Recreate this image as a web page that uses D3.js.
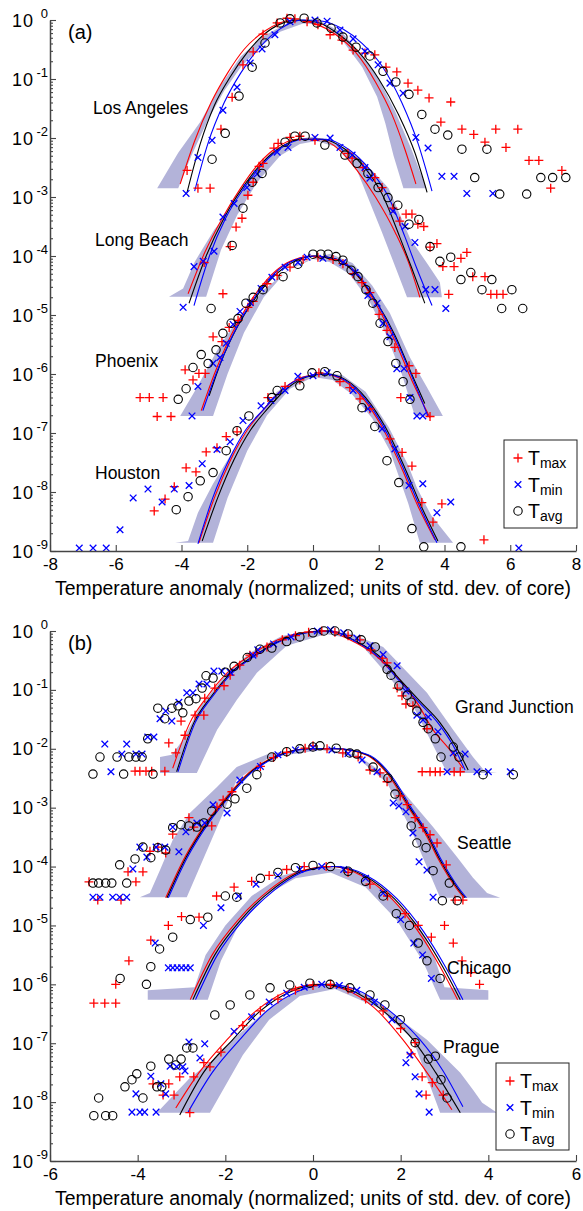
<!DOCTYPE html>
<html>
<head>
<meta charset="utf-8">
<script src="https://cdn.jsdelivr.net/npm/d3@7"></script>
<style>
  body { margin: 0; background: #fff; }
  text { font-family: "Liberation Sans", Arial, sans-serif; fill: #000; }
</style>
</head>
<body>
<div id="chart"></div>
<script>
// every point is [temperature anomaly, log10 of normalized frequency]

// ---- panel (a) ----
const laTmax = [[-0.79,0.03],[-0.55,0.02],[-1.09,-0.05],[-1.52,-0.24],[-1.82,-0.54],[-2.13,-0.76],[-2.46,-1.31],[-2.80,-1.85],[-3.83,-2.55],[-3.50,-2.85],[-3.13,-2.85],
  [-0.18,-0.03],[0.15,-0.08],[0.52,-0.25],[0.88,-0.34],[1.22,-0.51],[1.58,-0.56],[1.88,-0.59],[2.22,-0.80],[2.55,-0.88],[2.89,-1.07],[3.19,-1.19],[3.53,-1.32],[4.19,-1.39],
  [3.89,-1.73],[4.53,-1.85],[4.89,-1.94],[5.56,-1.85],[6.23,-1.85],[5.23,-2.07],[5.87,-2.16],[6.57,-2.38],[6.87,-2.38],[7.57,-2.55],[7.23,-2.85]];
const laTmin = [[-0.70,-0.03],[-1.16,-0.25],[-1.55,-0.49],[-1.91,-0.73],[-2.31,-1.14],[-2.74,-1.53],[-3.07,-2.04],[-3.50,-2.33],[-3.86,-2.94],
  [0.06,0],[0.43,-0.02],[0.82,-0.17],[1.22,-0.32],[1.58,-0.53],[1.98,-0.76],[2.34,-1.07],[2.74,-1.24],[3.13,-1.99],[3.50,-2.17],[3.92,-2.65],[4.29,-2.65],[4.68,-2.94],[5.47,-2.94]];
const laTavg = [[-1.0,-0.05],[-0.70,0.02],[-0.27,0.03],[0.12,-0.05],[0.55,-0.14],[0.91,-0.29],[1.31,-0.46],[1.73,-0.61],[2.13,-0.87],[2.52,-1.05],[2.92,-1.26],[3.31,-1.60],
  [3.71,-1.85],[4.10,-1.95],[4.53,-2.19],[5.29,-2.19],[4.92,-2.67],[6.93,-2.67],[7.29,-2.67],[7.69,-2.67],[5.68,-2.95],[6.50,-2.95],
  [-1.46,-0.39],[-1.85,-0.80],[-2.25,-1.29],[-2.67,-1.92],[-3.07,-2.36]];
const laFitMax = [[-4.04,-2.78],[-3.6,-2.05],[-3.1,-1.4],[-2.6,-0.9],[-2.1,-0.5],[-1.5,-0.2],[-0.6,0],[0.1,-0.07],[0.7,-0.25],[1.3,-0.55],[1.9,-1.05],[2.4,-1.6],[2.8,-2.2],[3.13,-2.78]];
const laFitAvg = [[-3.83,-2.92],[-3.43,-2.1],[-3.0,-1.45],[-2.5,-0.95],[-2.0,-0.55],[-1.5,-0.25],[-1.0,-0.07],[-0.4,0],[0.2,-0.05],[0.8,-0.25],[1.4,-0.55],[2.0,-1.0],[2.6,-1.6],[3.1,-2.25],[3.47,-2.92]];
const laFitMin = [[-3.6,-2.9],[-3.2,-2.1],[-2.7,-1.4],[-2.2,-0.9],[-1.6,-0.45],[-1.0,-0.15],[-0.3,0],[0.3,-0.02],[0.9,-0.15],[1.5,-0.4],[2.1,-0.78],[2.7,-1.4],[3.2,-2.1],[3.62,-2.9]];
const laBand = [[-4.74,-2.85],[-4.1,-2.25],[-3.43,-1.73],[-2.8,-1.1],[-2.2,-0.62],[-1.5,-0.27],[-0.8,-0.06],[-0.3,0],[0.3,-0.04],[0.9,-0.22],[1.5,-0.6],[2.0,-1.0],[2.5,-1.55],[3.0,-2.2],[3.45,-2.85],
  [2.75,-2.85],[2.45,-2.3],[2.2,-1.75],[1.95,-1.3],[1.5,-0.8],[0.9,-0.35],[0.3,-0.08],[-0.3,-0.06],[-1.0,-0.2],[-1.6,-0.45],[-2.2,-0.8],[-2.7,-1.2],[-3.2,-1.7],[-3.7,-2.3],[-4.1,-2.85]];

const lbTmax = [[-0.70,-1.99],[-0.40,-1.97],[0.06,-2.04],[-1.06,-2.09],[-1.19,-2.17],[1.06,-2.26],[1.19,-2.34],[1.52,-2.50],[1.88,-2.67],[2.10,-2.84],[-1.52,-2.43],[-1.64,-2.48],
  [-1.98,-2.97],[-1.82,-2.75],[-2.16,-3.36],[-2.34,-3.51],[-2.52,-3.84],[-3.31,-4.11],[-2.74,-4.64],
  [2.43,-3.19],[2.64,-3.41],[2.83,-3.29],[3.01,-3.29],[3.19,-3.46],[3.37,-3.50],[3.56,-3.85],[3.77,-3.79],[3.95,-4.18],[4.29,-4.18],[4.50,-4.04],[4.68,-3.94],
  [4.86,-4.35],[5.23,-4.35],[5.41,-4.65],[5.59,-4.65],[5.78,-4.65],[4.13,-4.65]];
const lbTmin = [[1.73,-2.68],[2.43,-3.24],[2.80,-3.50],[3.10,-3.77],[3.43,-4.57],[3.71,-4.57],[4.04,-4.89],
  [-1.70,-2.61],[-2.01,-2.84],[-2.40,-3.11],[-2.74,-3.34],[-3.01,-3.92],[-3.34,-4.09],[-3.62,-4.18],[-3.95,-4.87],
  [-1.09,-2.24],[-0.76,-2.16],[0.06,-1.99],[0.52,-2.0],[0.82,-2.16],[1.19,-2.29],[1.58,-2.50]];
const lbTavg = [[-0.55,-1.97],[-0.24,-1.97],[-0.85,-2.07],[0.36,-2.12],[0.97,-2.29],[1.34,-2.43],[1.67,-2.60],[1.98,-2.84],[2.28,-3.01],[-1.55,-2.60],[-1.85,-2.75],
  [2.58,-3.14],[3.22,-3.38],[2.92,-3.46],[3.56,-3.84],[3.86,-4.09],[4.19,-4.02],[4.50,-4.40],[4.80,-4.28],[5.14,-4.57],[5.44,-4.40],[6.05,-4.57],[5.74,-4.89],[6.38,-4.89],
  [-2.13,-3.19],[-2.46,-3.82],[-3.10,-4.89]];
const lbFitMax = [[-3.80,-4.64],[-3.3,-3.95],[-2.75,-3.35],[-2.2,-2.85],[-1.82,-2.55],[-1.2,-2.2],[-0.5,-2.02],[0.2,-2.02],[0.8,-2.2],[1.34,-2.55],[1.9,-3.0],[2.5,-3.6],[2.9,-4.1],[3.25,-4.7]];
const lbFitAvg = [[-3.77,-4.80],[-3.25,-4.0],[-2.7,-3.35],[-2.15,-2.85],[-1.75,-2.55],[-1.1,-2.2],[-0.4,-2.02],[0.3,-2.02],[1.0,-2.2],[1.64,-2.55],[2.1,-2.95],[2.64,-3.68],[3.0,-4.2],[3.40,-4.80]];
const lbFitMin = [[-3.62,-4.84],[-3.15,-4.0],[-2.65,-3.35],[-2.1,-2.85],[-1.70,-2.55],[-1.05,-2.2],[-0.3,-2.02],[0.4,-2.02],[1.1,-2.2],[1.75,-2.55],[2.25,-2.95],[2.8,-3.68],[3.15,-4.2],[3.62,-4.84]];
const lbBand = [[-4.38,-4.69],[-3.95,-4.55],[-3.6,-4.1],[-3.0,-3.55],[-2.5,-3.2],[-1.9,-2.65],[-1.3,-2.25],[-0.6,-2.03],[0,-1.98],[0.6,-2.05],[1.2,-2.25],[1.8,-2.55],[2.3,-2.85],[2.95,-3.7],[3.5,-4.15],[3.86,-4.45],[3.92,-4.70],
  [2.86,-4.70],[2.1,-3.6],[1.34,-2.55],[0.7,-2.15],[0.1,-2.05],[-0.4,-2.1],[-1.0,-2.3],[-1.7,-2.75],[-2.3,-3.3],[-2.8,-3.9],[-3.25,-4.69]];

const phxTmax = [[-5.26,-6.40],[-4.98,-6.40],[-4.56,-6.40],[-4.74,-6.72],[-4.32,-6.72],[-3.89,-5.93],[-3.65,-6.10],[-3.47,-5.99],[-3.28,-5.99],[-3.04,-5.37],[-2.77,-5.45],
  [-2.55,-5.21],[-2.28,-5.09],[-1.98,-4.87],[-1.82,-4.77],[-1.40,-4.47],[-1.09,-4.33],[-0.70,-4.19],[-0.30,-4.06],[0.15,-4.02],[0.61,-4.06],[0.91,-4.13],[1.22,-4.30],
  [1.49,-4.45],[1.73,-4.62],[2.01,-4.99],[2.25,-5.26],[2.49,-5.55],[2.92,-5.86],[3.13,-5.99],[2.67,-6.40],[3.56,-6.72]];
const phxTmin = [[-3.68,-6.71],[-3.50,-6.21],[-3.04,-5.82],[-2.83,-5.72],[-2.64,-5.48],[-2.43,-5.16],[-2.22,-4.94],[-1.91,-4.79],[-1.58,-4.55],[-1.25,-4.36],[-0.85,-4.19],
  [-0.46,-4.11],[-0.18,-4.02],[0.30,-4.04],[0.91,-4.11],[1.28,-4.28],[1.67,-4.67],[1.95,-4.80],[2.13,-5.14],[2.34,-5.37],[2.55,-5.91],[2.77,-5.91],[2.95,-6.40],[3.16,-6.71],[3.34,-6.71]];
const phxTavg = [[-4.10,-6.43],[-3.86,-6.25],[-3.65,-5.89],[-3.40,-5.67],[-3.19,-5.82],[-2.95,-5.59],[-2.74,-5.31],[-2.49,-5.14],[-2.28,-5.06],[-2.04,-4.80],[-1.82,-4.70],
  [-1.52,-4.57],[-0.91,-4.35],[-0.46,-4.14],[0,-3.97],[0.24,-3.97],[0.46,-3.97],[0.70,-4.01],[0.91,-4.07],[1.16,-4.24],[1.37,-4.35],[1.61,-4.57],[1.82,-4.80],[2.04,-5.14],
  [2.28,-5.45],[2.52,-5.82],[2.74,-6.13],[2.95,-6.43]];
const phxFitMax = [[-3.40,-6.62],[-3.0,-6.0],[-2.5,-5.35],[-2.0,-4.85],[-1.4,-4.4],[-0.8,-4.12],[0,-4.0],[0.7,-4.06],[1.3,-4.3],[1.9,-4.8],[2.5,-5.45],[3.0,-6.1],[3.56,-6.74]];
const phxFitAvg = [[-3.16,-6.37],[-2.8,-5.8],[-2.3,-5.2],[-1.8,-4.75],[-1.2,-4.35],[-0.6,-4.1],[0.1,-4.0],[0.7,-4.05],[1.3,-4.3],[1.9,-4.75],[2.5,-5.35],[3.0,-6.0],[3.40,-6.5]];
const phxFitMin = [[-3.35,-6.62],[-2.95,-6.0],[-2.45,-5.35],[-1.95,-4.85],[-1.35,-4.4],[-0.75,-4.12],[0.05,-4.0],[0.75,-4.06],[1.35,-4.3],[1.95,-4.8],[2.55,-5.45],[3.05,-6.1],[3.5,-6.72]];
const phxBand = [[-4.04,-6.71],[-3.53,-6.23],[-2.92,-5.6],[-2.31,-5.09],[-1.52,-4.58],[-0.49,-4.13],[0.52,-3.96],[1.2,-4.12],[1.8,-4.5],[2.34,-4.97],[2.95,-5.72],[3.47,-6.23],[3.95,-6.71],
  [3.10,-6.71],[2.7,-6.0],[2.2,-5.3],[1.7,-4.75],[1.1,-4.3],[0.5,-4.1],[0,-4.05],[-0.8,-4.25],[-1.5,-4.7],[-2.1,-5.3],[-2.6,-6.0],[-3.04,-6.71]];

const houTmax = [[-4.83,-8.32],[-4.50,-8.12],[-4.22,-7.91],[-3.86,-7.59],[-3.56,-7.66],[-3.25,-7.32],[-2.92,-7.25],[-2.64,-7.06],[-2.31,-6.98],[-1.37,-6.40],[-0.85,-6.21],[-0.40,-6.10],
  [0.18,-5.98],[0.82,-6.13],[1.12,-6.23],[1.43,-6.42],[1.73,-6.59],[2.34,-7.10],[2.71,-7.33],[3.01,-7.56],[3.31,-8.18],[3.65,-8.51],[3.92,-8.20],[5.20,-8.81]];
const houTmin = [[-7.11,-8.95],[-6.69,-8.95],[-6.29,-8.95],[-5.87,-8.64],[-5.47,-8.10],[-5.02,-7.95],[-4.59,-8.17],[-4.22,-7.95],[-3.77,-7.89],[-3.37,-7.52],[-2.92,-7.28],[-2.52,-7.15],
  [-2.13,-6.79],[-1.58,-6.54],[-1.28,-6.45],[-0.85,-6.28],[-0.46,-6.04],[0,-6.03],[0.43,-5.98],[1.22,-6.28],[1.67,-6.59],[2.10,-6.93],[2.49,-7.27],[2.92,-7.89],[3.34,-7.86],
  [3.77,-8.35],[4.19,-8.17],[6.26,-8.95]];
const houTavg = [[-4.16,-8.30],[-3.80,-8.08],[-3.43,-7.81],[-3.04,-7.67],[-2.64,-7.30],[-2.31,-6.96],[-1.95,-6.71],[-1.25,-6.40],[-1.09,-6.28],[-0.40,-6.20],[-0.03,-5.98],[0.36,-5.96],
  [0.73,-6.03],[1.49,-6.57],[1.88,-6.89],[2.25,-7.47],[2.61,-7.84],[3.01,-8.62],[3.37,-8.93],[4.50,-8.93]];
const houFitMax = [[-3.47,-8.86],[-3.0,-8.1],[-2.5,-7.45],[-2.0,-6.95],[-1.5,-6.6],[-0.9,-6.25],[-0.3,-6.05],[0.3,-6.0],[0.9,-6.1],[1.5,-6.4],[2.1,-6.9],[2.7,-7.6],[3.2,-8.25],[3.71,-8.81]];
const houFitAvg = [[-3.37,-8.83],[-2.9,-8.1],[-2.4,-7.45],[-1.9,-6.95],[-1.4,-6.6],[-0.8,-6.25],[-0.2,-6.05],[0.4,-6.0],[1.0,-6.1],[1.6,-6.4],[2.2,-6.9],[2.8,-7.6],[3.3,-8.25],[3.80,-8.83]];
const houFitMin = [[-3.5,-8.88],[-3.05,-8.1],[-2.55,-7.45],[-2.05,-6.95],[-1.5,-6.6],[-0.9,-6.25],[-0.25,-6.05],[0.35,-6.0],[0.95,-6.1],[1.55,-6.4],[2.15,-6.9],[2.75,-7.6],[3.25,-8.25],[3.77,-8.86]];
const houBand = [[-4.19,-8.86],[-3.8,-8.83],[-3.5,-8.35],[-3.04,-7.86],[-2.43,-7.3],[-1.8,-6.8],[-1.1,-6.3],[-0.4,-6.05],[0.3,-5.97],[0.9,-6.02],[1.6,-6.3],[2.3,-6.9],[2.9,-7.55],[3.16,-7.93],[3.6,-8.4],[4.26,-8.86],
  [3.25,-8.86],[2.9,-8.2],[2.34,-7.3],[1.8,-6.75],[1.2,-6.35],[0.6,-6.1],[0.0,-6.05],[-0.7,-6.25],[-1.4,-6.7],[-2.0,-7.3],[-2.6,-8.1],[-3.04,-8.86]];

// ---- panel (b) ----
const gjTmax = [[-4.06,-2.38],[-3.95,-2.38],[-3.81,-2.38],[-3.68,-2.38],[-3.38,-2.38],[-3.29,-1.90],[-3.13,-2.07],[-3.01,-1.53],[-2.92,-1.77],[-2.69,-1.43],[-2.49,-1.43],
  [-2.47,-1.14],[-2.24,-0.97],[-2.03,-0.93],[-1.89,-0.75],[-1.67,-0.58],[-1.44,-0.41],[-1.28,-0.37],[-1.05,-0.27],[-0.7,-0.15],[-0.4,-0.08],[-0.1,-0.02],[0.2,0.0],[0.5,-0.02],[0.8,-0.08],
  [1.07,-0.15],[1.32,-0.32],[1.58,-0.46],[1.69,-0.54],[1.92,-0.97],[2.03,-1.10],[2.12,-1.24],[2.28,-1.27],[2.60,-1.66],[2.49,-2.39],[2.67,-2.39],[2.79,-2.39],[2.90,-2.39],[3.22,-2.39],[3.36,-2.39]];
const gjTmin = [[-4.75,-1.92],[-4.61,-2.39],[-4.25,-1.92],[-4.36,-2.09],[-4.04,-2.09],[-3.90,-2.09],[-3.77,-1.80],[-3.63,-1.80],[-3.49,-1.49],[-3.36,-1.36],[-3.22,-1.53],[-3.06,-1.21],
  [-2.88,-1.05],[-2.74,-1.05],[-2.60,-0.90],[-2.42,-0.90],[-2.26,-0.68],[-2.08,-0.68],[-1.89,-0.70],[-1.37,-0.41],[-1.26,-0.32],[-0.9,-0.22],[-0.5,-0.1],[0.1,0],[0.4,0.02],[0.7,-0.03],
  [1.0,-0.12],[1.3,-0.25],[1.6,-0.4],[1.92,-0.59],[2.12,-1.02],[2.37,-1.43],[2.51,-1.51],[2.63,-1.46],[2.85,-1.71],[3.20,-2.07],[3.47,-2.09],[3.06,-2.39],[3.74,-2.39],[4.00,-2.39],[4.50,-2.39]];
const gjTavg = [[-5.02,-2.43],[-4.86,-2.14],[-4.47,-2.14],[-4.32,-2.43],[-4.20,-2.14],[-4.04,-2.14],[-3.90,-2.14],[-3.65,-2.43],[-3.77,-1.83],[-3.54,-1.31],[-3.38,-1.49],[-3.22,-1.31],
  [-2.97,-1.39],[-3.08,-1.27],[-2.83,-1.19],[-2.67,-1.15],[-2.53,-0.97],[-2.44,-0.76],[-2.28,-0.80],[-2.0,-0.7],[-1.8,-0.6],[-1.5,-0.45],[-1.21,-0.31],[-0.94,-0.29],[-0.6,-0.18],[-0.3,-0.1],
  [0.0,-0.03],[0.25,0.0],[0.5,0.0],[0.8,-0.05],[1.1,-0.15],[1.42,-0.27],[1.69,-0.65],[1.78,-0.75],[1.96,-0.93],[2.15,-1.09],[2.24,-1.21],[2.37,-1.36],[2.51,-1.55],[2.63,-1.66],
  [2.79,-1.83],[2.92,-2.14],[3.20,-1.97],[3.33,-2.14],[3.88,-2.44],[4.57,-2.44]];
const gjFitMax = [[-3.20,-2.33],[-2.81,-1.56],[-2.42,-1.12],[-1.96,-0.71],[-1.4,-0.4],[-0.8,-0.15],[-0.2,-0.02],[0.3,0],[0.84,-0.15],[1.4,-0.4],[2.0,-0.85],[2.4,-1.25],[2.74,-1.68],[3.1,-2.0],[3.42,-2.33]];
const gjFitAvg = [[-3.11,-2.39],[-2.72,-1.56],[-2.33,-1.12],[-1.87,-0.71],[-1.3,-0.4],[-0.7,-0.15],[-0.1,-0.02],[0.4,0],[0.92,-0.15],[1.5,-0.42],[1.99,-0.83],[2.45,-1.2],[2.90,-1.56],[3.25,-1.95],[3.54,-2.36]];
const gjFitMin = [[-3.08,-2.39],[-2.69,-1.56],[-2.3,-1.12],[-1.84,-0.71],[-1.27,-0.4],[-0.67,-0.15],[-0.07,-0.02],[0.42,0],[0.9,-0.15],[1.46,-0.42],[1.95,-0.83],[2.4,-1.2],[2.85,-1.56],[3.2,-1.95],[3.47,-2.36]];
const gjBand = [[-3.49,-2.41],[-3.49,-2.14],[-3.22,-2.1],[-2.97,-1.85],[-2.58,-1.29],[-1.96,-0.71],[-1.44,-0.37],[-0.7,-0.08],[0.2,0.02],[0.9,-0.05],[1.60,-0.27],[2.60,-1.05],[3.20,-1.68],
  [3.65,-2.14],[3.93,-2.39],[4.20,-2.41],[3.06,-2.41],[2.3,-1.3],[1.60,-0.66],[1.00,-0.15],[0.3,-0.05],[-0.6,-0.25],[-1.28,-0.71],[-1.74,-1.17],[-2.19,-1.68],[-2.65,-2.41]];

const seaTmax = [[-5.11,-4.26],[-4.91,-4.57],[-4.38,-4.57],[-4.22,-4.09],[-4.04,-4.26],[-3.88,-4.09],[-3.72,-3.74],[-3.54,-3.67],[-3.36,-3.77],[-3.20,-3.45],[-2.83,-3.17],[-2.72,-3.33],
  [-2.31,-3.31],[-2.19,-2.99],[-2.05,-2.87],[-1.85,-2.73],[-1.2,-2.3],[-0.9,-2.15],[-0.6,-2.06],[-0.18,-1.99],[0,-1.95],[0.32,-2.0],[0.68,-2.07],[1.03,-2.14],[1.30,-2.36],[1.53,-2.41],
  [1.69,-2.56],[1.99,-2.80],[2.15,-2.95],[2.33,-3.17],[2.51,-3.34],[2.67,-3.46],[2.83,-3.60],[3.04,-3.97],[3.24,-4.57],[3.42,-4.57]];
const seaTmin = [[-5.02,-4.52],[-4.86,-4.52],[-4.57,-4.52],[-4.41,-4.52],[-4.25,-4.52],[-4.11,-4.04],[-3.95,-3.67],[-3.79,-3.84],[-3.58,-3.67],[-3.38,-3.67],[-3.06,-3.75],[-3.20,-3.33],
  [-2.90,-3.41],[-2.65,-3.26],[-2.47,-3.26],[-2.28,-2.95],[-1.96,-3.09],[-1.67,-2.53],[-1.2,-2.3],[-0.8,-2.1],[-0.4,-2.02],[0.0,-1.98],[0.43,-2.02],[0.8,-2.08],[1.12,-2.19],[1.46,-2.39],
  [1.83,-2.92],[1.96,-2.97],[2.12,-3.07],[2.28,-3.43],[2.42,-3.92],[2.60,-4.06],[2.74,-4.52]];
const seaTavg = [[-5.02,-4.28],[-4.89,-4.28],[-4.73,-4.28],[-4.59,-4.28],[-4.25,-4.28],[-4.41,-3.97],[-4.06,-3.87],[-3.88,-3.67],[-3.70,-3.85],[-3.54,-3.68],[-3.36,-3.72],[-3.20,-3.34],
  [-3.01,-3.29],[-2.83,-3.31],[-2.65,-3.33],[-2.49,-3.26],[-2.31,-3.06],[-1.96,-2.94],[-1.78,-2.85],[-1.51,-2.67],[-1.28,-2.44],[-0.94,-2.14],[-0.6,-2.05],[-0.3,-2.0],[0.0,-1.97],
  [0.16,-1.95],[0.53,-1.99],[0.84,-2.07],[1.00,-2.09],[1.37,-2.31],[1.71,-2.50],[1.87,-2.77],[2.24,-3.31],[2.37,-3.60],[2.58,-3.68],[2.74,-4.07],[3.11,-4.28],[2.95,-4.58],[3.29,-4.58]];
const seaFitMax = [[-3.36,-4.53],[-2.93,-3.85],[-2.43,-3.25],[-1.93,-2.78],[-1.47,-2.41],[-0.83,-2.12],[-0.13,-2.0],[0.47,-2.0],[1.2,-2.1],[1.77,-2.5],[2.18,-3.0],[2.57,-3.45],[2.87,-3.89],[3.26,-4.36],[3.44,-4.53]];
const seaFitAvg = [[-3.33,-4.53],[-2.9,-3.85],[-2.4,-3.25],[-1.9,-2.78],[-1.44,-2.41],[-0.8,-2.12],[-0.1,-2.0],[0.5,-2.0],[1.23,-2.1],[1.8,-2.5],[2.21,-3.0],[2.6,-3.45],[2.90,-3.89],[3.29,-4.36],[3.47,-4.53]];
const seaFitMin = [[-3.30,-4.53],[-2.87,-3.85],[-2.37,-3.25],[-1.87,-2.78],[-1.41,-2.41],[-0.77,-2.12],[-0.07,-2.0],[0.53,-2.0],[1.26,-2.1],[1.83,-2.5],[2.24,-3.0],[2.63,-3.45],[2.93,-3.89],[3.32,-4.36],[3.5,-4.53]];
const seaBand = [[-3.95,-4.52],[-3.72,-4.45],[-3.49,-4.06],[-3.20,-3.55],[-2.81,-3.09],[-2.19,-2.65],[-1.74,-2.31],[-1.0,-2.08],[0.0,-1.98],[1.0,-2.1],[1.83,-2.53],[2.74,-3.33],[3.29,-3.84],
  [3.65,-4.19],[3.97,-4.45],[4.27,-4.53],[2.90,-4.53],[2.21,-3.33],[1.69,-2.58],[1.0,-2.15],[0.2,-2.02],[-1.0,-2.15],[-1.74,-2.53],[-2.05,-3.09],[-2.88,-4.52]];

const chiTmax = [[-5.0,-6.32],[-4.75,-6.32],[-4.5,-6.32],[-4.5,-6.0],[-4.2,-5.6],[-3.7,-5.25],[-3.3,-5.0],[-3.0,-4.85],[-2.6,-4.86],[-2.2,-4.5],[-1.8,-4.35],[-1.4,-4.25],
  [-1.0,-4.15],[-0.6,-4.05],[-0.2,-4.0],[0.3,-4.0],[0.8,-4.1],[1.3,-4.3],[1.7,-4.5],[2.1,-4.8],[2.4,-5.0],[2.7,-5.2],[3.0,-5.0],[3.2,-5.3],[3.4,-5.6],[3.6,-5.8],[3.8,-6.0]];
const chiTmin = [[-3.3,-5.72],[-3.2,-5.72],[-3.1,-5.72],[-3.0,-5.72],[-2.9,-5.72],[-2.8,-5.72],[-3.6,-5.3],[-2.5,-5.0],[-2.1,-4.7],[-1.7,-4.5],[-1.3,-4.3],[-0.8,-4.15],
  [-0.3,-4.05],[0.2,-4.0],[0.7,-4.05],[1.2,-4.2],[1.6,-4.45],[2.0,-4.9],[2.3,-5.3],[2.5,-5.5],[2.7,-5.9]];
const chiTavg = [[-4.4,-5.9],[-3.8,-6.0],[-3.7,-5.7],[-3.5,-5.4],[-3.2,-5.2],[-2.8,-4.9],[-2.4,-4.86],[-2.0,-4.5],[-1.74,-4.52],[-1.2,-4.2],[-0.8,-4.1],[-0.4,-4.02],[0.0,-3.98],
  [0.4,-4.0],[0.8,-4.08],[1.2,-4.25],[1.6,-4.5],[1.9,-4.8],[2.2,-5.0],[2.4,-5.3],[2.6,-5.6],[2.9,-5.9]];
const chiFitMax = [[-2.8,-6.26],[-2.3,-5.5],[-1.7,-4.9],[-1.0,-4.4],[-0.3,-4.08],[0.4,-4.0],[1.1,-4.15],[1.8,-4.55],[2.4,-5.1],[2.9,-5.7],[3.3,-6.26]];
const chiFitAvg = [[-2.74,-6.26],[-2.24,-5.5],[-1.64,-4.9],[-0.94,-4.4],[-0.24,-4.08],[0.46,-4.0],[1.16,-4.15],[1.86,-4.55],[2.46,-5.1],[2.96,-5.7],[3.36,-6.26]];
const chiFitMin = [[-2.68,-6.26],[-2.18,-5.5],[-1.58,-4.9],[-0.88,-4.4],[-0.18,-4.08],[0.52,-4.0],[1.22,-4.15],[1.92,-4.55],[2.52,-5.1],[3.02,-5.7],[3.42,-6.26]];
const chiBand = [[-3.77,-6.26],[-3.77,-6.1],[-2.7,-6.05],[-2.45,-5.5],[-2.0,-5.0],[-1.4,-4.5],[-0.7,-4.15],[0.2,-3.98],[1.0,-4.1],[1.7,-4.45],[2.4,-5.0],[2.75,-5.5],[3.0,-6.05],
  [4.0,-6.1],[4.0,-6.26],[2.9,-6.26],[2.5,-5.6],[1.9,-4.9],[1.2,-4.35],[0.4,-4.1],[-0.4,-4.2],[-1.1,-4.5],[-1.7,-5.0],[-2.1,-5.6],[-2.4,-6.26]];

const prgTmax = [[-3.65,-7.69],[-3.42,-7.88],[-3.29,-7.69],[-3.17,-7.88],[-3.04,-7.57],[-2.81,-8.18],[-2.72,-7.57],[-2.49,-7.33],[-2.10,-7.15],[-2.35,-7.40],
  [-1.6,-6.7],[-1.2,-6.45],[-0.8,-6.25],[-0.4,-6.1],[0.0,-6.02],[0.4,-6.0],[0.8,-6.08],[1.2,-6.25],[1.6,-6.45],[2.0,-6.75],
  [2.33,-6.99],[2.24,-7.18],[2.49,-7.57],[2.72,-7.67],[2.58,-7.88],[2.97,-7.88]];
const prgTmin = [[-4.13,-8.17],[-3.95,-8.17],[-3.84,-8.17],[-3.58,-8.17],[-4.04,-7.86],[-3.70,-7.56],[-3.47,-7.69],[-3.36,-7.86],[-3.26,-7.39],[-3.11,-7.40],[-2.97,-7.40],[-2.92,-7.47],
  [-2.58,-7.25],[-2.47,-7.01],[-2.83,-6.98],[-1.8,-6.8],[-1.4,-6.55],[-1.0,-6.3],[-0.6,-6.15],[-0.2,-6.05],[0.2,-6.0],[0.6,-6.02],[1.0,-6.1],[1.4,-6.3],[1.8,-6.6],
  [2.21,-7.20],[2.12,-7.33],[2.33,-7.57],[2.42,-7.86],[2.65,-8.17]];
const prgTavg = [[-5.00,-8.23],[-4.89,-7.93],[-4.73,-8.23],[-4.57,-8.23],[-4.29,-7.74],[-4.13,-7.62],[-4.02,-7.52],[-3.88,-7.93],[-3.70,-7.39],[-3.56,-7.74],[-3.45,-7.74],[-3.29,-7.27],
  [-3.13,-7.37],[-3.01,-7.27],[-2.88,-7.08],[-2.74,-7.08],[-2.24,-6.52],[-1.89,-6.35],[-1.44,-6.18],[-0.98,-6.06],[-0.53,-6.01],[-0.07,-5.98],[0.39,-6.0],[0.84,-6.06],[1.30,-6.18],
  [1.64,-6.35],[1.99,-6.60],[2.33,-6.99],[2.63,-7.27],[2.79,-7.22],[2.92,-7.62],[3.06,-7.93]];
const prgFitMax = [[-3.13,-8.10],[-2.6,-7.5],[-1.96,-6.94],[-1.3,-6.45],[-0.6,-6.12],[0.1,-6.0],[0.7,-6.08],[1.4,-6.4],[2.05,-6.94],[2.6,-7.5],[3.17,-8.13]];
const prgFitAvg = [[-3.04,-8.22],[-2.5,-7.5],[-1.83,-6.94],[-1.2,-6.45],[-0.5,-6.12],[0.2,-6.0],[0.8,-6.08],[1.6,-6.45],[2.28,-6.94],[2.8,-7.5],[3.36,-8.18]];
const prgFitMin = [[-2.85,-8.17],[-2.3,-7.5],[-1.67,-6.94],[-1.05,-6.45],[-0.35,-6.12],[0.35,-6.0],[0.95,-6.08],[1.75,-6.45],[2.44,-6.94],[2.95,-7.45],[3.42,-8.08]];
const prgBand = [[-3.56,-8.18],[-3.13,-7.84],[-2.81,-7.59],[-2.28,-7.28],[-1.83,-6.94],[-1.0,-6.4],[-0.2,-6.05],[0.5,-6.0],[1.3,-6.2],[2.0,-6.6],[2.60,-6.94],[3.36,-7.50],[3.65,-7.79],
  [3.86,-8.01],[4.20,-8.18],[2.90,-8.18],[2.28,-6.94],[1.5,-6.4],[0.5,-6.08],[-0.3,-6.2],[-1.0,-6.6],[-1.6,-7.2],[-2.35,-8.18]];

const panelA = {
  tag: '(a)', xTicks: [-8, -6, -4, -2, 0, 2, 4, 6, 8], xDomain: [-8, 8], top: 20, bottom: 551,
  stations: [
    { name: 'Los Angeles', lx: 93, ly: 114, band: laBand, fits: [laFitMax, laFitAvg, laFitMin], pts: [laTmax, laTmin, laTavg] },
    { name: 'Long Beach', lx: 95, ly: 246, band: lbBand, fits: [lbFitMax, lbFitAvg, lbFitMin], pts: [lbTmax, lbTmin, lbTavg] },
    { name: 'Phoenix', lx: 95, ly: 367, band: phxBand, fits: [phxFitMax, phxFitAvg, phxFitMin], pts: [phxTmax, phxTmin, phxTavg] },
    { name: 'Houston', lx: 95, ly: 479, band: houBand, fits: [houFitMax, houFitAvg, houFitMin], pts: [houTmax, houTmin, houTavg] }
  ],
  legend: { x: 504, y: 440, w: 73, h: 88 }
};
const panelB = {
  tag: '(b)', xTicks: [-6, -4, -2, 0, 2, 4, 6], xDomain: [-6, 6], top: 631, bottom: 1161,
  stations: [
    { name: 'Grand Junction', lx: 455, ly: 713, band: gjBand, fits: [gjFitMax, gjFitAvg, gjFitMin], pts: [gjTmax, gjTmin, gjTavg] },
    { name: 'Seattle', lx: 457, ly: 849, band: seaBand, fits: [seaFitMax, seaFitAvg, seaFitMin], pts: [seaTmax, seaTmin, seaTavg] },
    { name: 'Chicago', lx: 447, ly: 974, band: chiBand, fits: [chiFitMax, chiFitAvg, chiFitMin], pts: [chiTmax, chiTmin, chiTavg] },
    { name: 'Prague', lx: 443, ly: 1053, band: prgBand, fits: [prgFitMax, prgFitAvg, prgFitMin], pts: [prgTmax, prgTmin, prgTavg] }
  ],
  legend: { x: 496, y: 1063, w: 73, h: 87 }
};

const bandColor = '#b3b3d9';
const fitColors = ['#ff0000', '#000000', '#0000ff'];
const markerPaths = ['M-4.5,0H4.5M0,-4.5V4.5', 'M-3.3,-3.3L3.3,3.3M-3.3,3.3L3.3,-3.3', null];
const markerColors = ['#ff0000', '#0000ff', '#000000'];
const legendSubs = ['max', 'min', 'avg'];

const svg = d3.select('#chart').append('svg')
  .attr('width', 583).attr('height', 1211)
  .style('display', 'block');

function drawMarker(g, i, cx, cy) {
  if (markerPaths[i]) {
    g.append('path')
      .attr('d', markerPaths[i])
      .attr('transform', `translate(${cx},${cy})`)
      .style('fill', 'none').style('stroke', markerColors[i]).style('stroke-width', 1.3);
  } else {
    g.append('circle')
      .attr('cx', cx).attr('cy', cy).attr('r', 4.2)
      .style('fill', 'none').style('stroke', markerColors[i]).style('stroke-width', 1.1);
  }
}

function drawPanel(p) {
  const xScale = d3.scaleLinear().domain(p.xDomain).range([50, 576]);
  const yScale = d3.scaleLog().domain([1e-9, 1]).range([p.bottom, p.top]);
  const g = svg.append('g');

  const bandLine = d3.line().x(d => xScale(d[0])).y(d => yScale(10 ** d[1])).curve(d3.curveLinearClosed);
  const fitLine = d3.line().x(d => xScale(d[0])).y(d => yScale(10 ** d[1])).curve(d3.curveMonotoneX);

  p.stations.forEach(s => {
    g.append('path')
      .attr('d', bandLine(s.band))
      .style('fill', bandColor).style('stroke', 'none');
  });

  p.stations.forEach(s => {
    s.fits.forEach((f, i) => {
      g.append('path')
        .attr('d', fitLine(f))
        .style('fill', 'none').style('stroke', fitColors[i]).style('stroke-width', 1.1);
    });
  });

  p.stations.forEach(s => {
    s.pts.forEach((series, i) => {
      series.forEach(d => drawMarker(g, i, xScale(d[0]), yScale(10 ** d[1])));
    });
    g.append('text')
      .attr('x', s.lx).attr('y', s.ly)
      .style('font-size', '17.5px')
      .text(s.name);
  });

  // y axis (log, inward ticks)
  const decades = d3.range(0, 10).map(k => 10 ** -k);
  const minors = [];
  for (let k = 1; k <= 9; k++) for (let m = 2; m <= 9; m++) minors.push(m * 10 ** -k);

  const yMinor = g.append('g').attr('transform', 'translate(50,0)')
    .call(d3.axisLeft(yScale).tickValues(minors).tickSize(-3).tickFormat(''));
  yMinor.select('.domain').remove();
  const yMajor = g.append('g').attr('transform', 'translate(50,0)')
    .call(d3.axisLeft(yScale).tickValues(decades).tickSize(-6).tickSizeOuter(0).tickFormat(''));
  g.selectAll('.tick line').style('stroke', '#444').style('stroke-width', 1.1);
  yMajor.select('.domain').style('stroke', '#444').style('stroke-width', 1.5);

  decades.forEach((v, k) => {
    const yy = yScale(v);
    g.append('text')
      .attr('x', 34).attr('y', yy + 6.5)
      .style('font-size', '18px').style('text-anchor', 'end')
      .style('letter-spacing', '1px')
      .text('10');
    g.append('text')
      .attr('x', 48).attr('y', yy - 2)
      .style('font-size', '13px').style('text-anchor', 'end')
      .text(k === 0 ? '0' : '-' + k);
  });

  // x axis
  const xAxis = g.append('g').attr('transform', `translate(0,${p.bottom})`)
    .call(d3.axisBottom(xScale).tickValues(p.xTicks).tickSize(-6).tickSizeOuter(0).tickPadding(7).tickFormat(d => String(d)));
  xAxis.select('.domain').style('stroke', '#444').style('stroke-width', 1.5);
  xAxis.selectAll('.tick line').style('stroke', '#444').style('stroke-width', 1.1);
  xAxis.selectAll('.tick text')
    .style('font-size', '17px').style('fill', '#000')
    .style('font-family', '"Liberation Sans", Arial, sans-serif');

  g.append('text')
    .attr('x', 313).attr('y', p.bottom + 44)
    .style('font-size', '19.4px').style('text-anchor', 'middle')
    .text('Temperature anomaly (normalized; units of std. dev. of core)');

  g.append('text')
    .attr('x', 68).attr('y', p.top + 19)
    .style('font-size', '20px')
    .text(p.tag);

  // legend
  const L = p.legend;
  const lg = g.append('g');
  lg.append('rect')
    .attr('x', L.x).attr('y', L.y).attr('width', L.w).attr('height', L.h)
    .style('fill', '#fff').style('stroke', '#222').style('stroke-width', 1);
  legendSubs.forEach((sub, i) => {
    const cy = L.y + 18 + i * 26.5;
    drawMarker(lg, i, L.x + 14, cy);
    const t = lg.append('text')
      .attr('x', L.x + 24).attr('y', cy + 7)
      .style('font-size', '19.5px');
    t.append('tspan').text('T');
    t.append('tspan').attr('dy', 3).style('font-size', '14px').text(sub);
  });
}

drawPanel(panelA);
drawPanel(panelB);
</script>
</body>
</html>
